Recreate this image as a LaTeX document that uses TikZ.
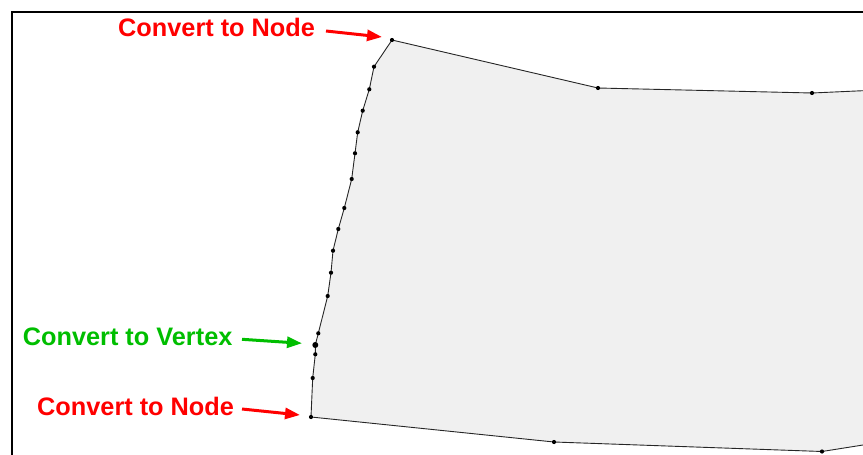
\documentclass[tikz,border=0pt]{standalone}
\usepackage{fontspec}
\setmainfont{Liberation Sans}
\usetikzlibrary{arrows.meta}
\definecolor{lblred}{RGB}{255,0,0}
\definecolor{lblgreen}{RGB}{0,190,0}
\definecolor{shapefill}{RGB}{240,240,240}
\tikzset{
  lbl/.style={anchor=base west, inner sep=0pt, font=\bfseries\fontsize{25.3}{30}\selectfont},
  arr/.style={line width=3pt, -{Triangle[length=15pt,width=11pt]}},
  vtx/.style={circle, fill=black, inner sep=0pt, minimum size=4.2pt},
  bigvtx/.style={circle, fill=black, inner sep=0pt, minimum size=6pt},
  frameline/.style={line width=2pt, black},
  edge/.style={line width=0.9pt, black!85}
}
\begin{document}
\begin{tikzpicture}[x=1pt,y=-1pt]
\useasboundingbox (0,0) rectangle (863,455);
% vertices
\coordinate (p1) at (392,40);
\coordinate (p2) at (598,88);
\coordinate (p3) at (812,93);
\coordinate (r1) at (863,90.7);
\coordinate (r2) at (863,445);
\coordinate (q1) at (822,451.5);
\coordinate (q2) at (554,442);
\coordinate (q3) at (311,417);
\coordinate (l1) at (312.7,378);
\coordinate (l2) at (315.3,354.3);
\coordinate (l3) at (315.3,345);
\coordinate (l4) at (318.3,333.3);
\coordinate (l5) at (327.7,296);
\coordinate (l6) at (331,272.7);
\coordinate (l7) at (333,250.7);
\coordinate (l8) at (338.3,229);
\coordinate (l9) at (344.3,208);
\coordinate (l10) at (351.7,179);
\coordinate (l11) at (355,153.3);
\coordinate (l12) at (357.7,132.3);
\coordinate (l13) at (362.7,110.7);
\coordinate (l14) at (369.3,89.3);
\coordinate (l15) at (374,66.7);
% fill
\fill[shapefill] (p1) -- (p2) -- (p3) -- (r1) -- (r2) -- (q1) -- (q2) -- (q3) -- (l1) -- (l2) -- (l3) -- (l4) -- (l5) -- (l6) -- (l7) -- (l8) -- (l9) -- (l10) -- (l11) -- (l12) -- (l13) -- (l14) -- (l15) -- cycle;
% outline
\draw[edge] (r1) -- (p3) -- (p2) -- (p1) -- (l15) -- (l14) -- (l13) -- (l12) -- (l11) -- (l10) -- (l9) -- (l8) -- (l7) -- (l6) -- (l5) -- (l4) -- (l3) -- (l2) -- (l1) -- (q3) -- (q2) -- (q1) -- (r2);
% vertex dots
\foreach \p in {p1,p2,p3,q1,q2,q3,l1,l2,l4,l5,l6,l7,l8,l9,l10,l11,l12,l13,l14,l15}
  \node[vtx] at (\p) {};
\node[bigvtx] (big) at (l3) {};
% frame
\draw[frameline] (12,455) -- (12,12) -- (863,12);
% labels
\node[lbl, text=lblred] (t1) at (118,36.7) {Convert to Node};
\node[lbl, text=lblgreen] (t2) at (22.7,345) {Convert to Vertex};
\node[lbl, text=lblred] (t3) at (37,415) {Convert to Node};
% arrow ends
\coordinate (s1) at (326,31);
\coordinate (e1) at (382,37);
\coordinate (s2) at (242,339.3);
\coordinate (e2) at (302,343.3);
\coordinate (s3) at (242,409);
\coordinate (e3) at (300,415);
\draw[arr, lblred] (s1) -- (e1);
\draw[arr, lblgreen] (s2) -- (e2);
\draw[arr, lblred] (s3) -- (e3);
\end{tikzpicture}
\end{document}
